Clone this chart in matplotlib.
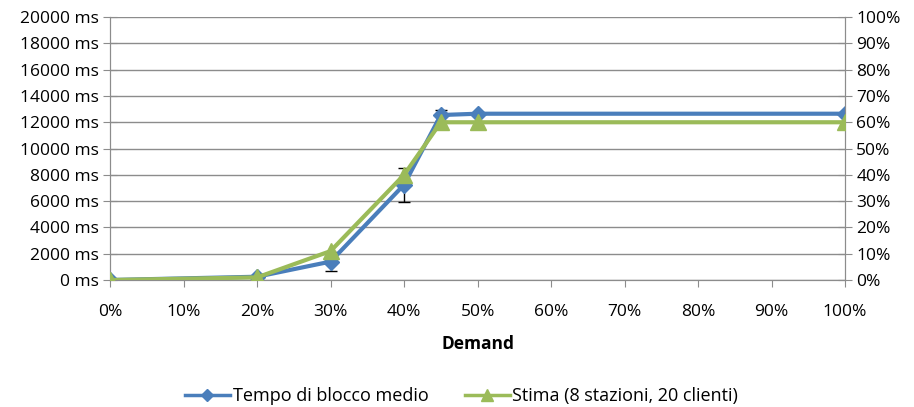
import matplotlib.pyplot as plt
import matplotlib.ticker as mticker
from matplotlib.lines import Line2D

# Data
demand = [0.0, 0.20, 0.30, 0.40, 0.45, 0.50, 1.00]
blocco_ms = [0, 250, 1400, 7250, 12550, 12650, 12650]
blocco_err = [0, 60, 750, 1300, 420, 80, 80]
stima_pct = [0.0, 0.01, 0.11, 0.40, 0.60, 0.60, 0.60]

left_ticks = list(range(0, 20001, 2000))
right_ticks = [i / 10 for i in range(11)]
x_ticks = [i / 10 for i in range(11)]
series_labels = ["Tempo di blocco medio", "Stima (8 stazioni, 20 clienti)"]

blue = "#4A7EBB"
green = "#9BBB59"
grid_c = "#8C8C8C"
txt_c = "#000000"
fs = 12.5

plt.rcParams["font.family"] = ["Open Sans", "DejaVu Sans"]

fig = plt.figure(figsize=(9.14, 4.07), dpi=100)
ax = fig.add_axes([0.1204, 0.312, 0.8042, 0.646])
ax2 = ax.twinx()

ax.errorbar(demand, blocco_ms, yerr=blocco_err, color=blue, lw=3,
            marker="D", ms=8, mec=blue, mfc=blue, ecolor="black",
            elinewidth=1, capsize=4, capthick=1, zorder=3)
ax2.plot(demand, stima_pct, color=green, lw=3, marker="^", ms=11.5,
         mec=green, mfc=green, zorder=4)

ax.set_xlim(0, 1)
ax.set_ylim(0, 20000)
ax2.set_ylim(0, 1)

ax.set_xticks(x_ticks)
ax.xaxis.set_major_formatter(mticker.FuncFormatter(lambda v, p: f"{v*100:.0f}%"))
ax.set_yticks(left_ticks)
ax.yaxis.set_major_formatter(mticker.FuncFormatter(lambda v, p: f"{v:.0f} ms"))
ax2.set_yticks(right_ticks)
ax2.yaxis.set_major_formatter(mticker.FuncFormatter(lambda v, p: f"{v*100:.0f}%"))

ax.grid(axis="y", color=grid_c, lw=1)
ax.set_axisbelow(True)
for a in (ax, ax2):
    for s in a.spines.values():
        s.set_color(grid_c)
    a.spines["top"].set_visible(False)
    a.tick_params(colors=grid_c, labelcolor=txt_c, labelsize=fs)
ax.tick_params(axis="x", direction="out", length=5, pad=12)
ax.tick_params(axis="y", direction="inout", length=10, pad=3)
ax2.tick_params(axis="y", direction="inout", length=10, pad=3)

ax.set_xlabel("Demand", fontsize=fs, fontweight="bold", labelpad=11)

ax.set_zorder(ax2.get_zorder() - 1)
ax.patch.set_visible(False)

handles = [
    Line2D([], [], color=blue, lw=2.5, marker="D", ms=6, mec=blue, mfc=blue),
    Line2D([], [], color=green, lw=2.5, marker="^", ms=9, mec=green, mfc=green),
]
fig.legend(handles, series_labels, loc="center", bbox_to_anchor=(0.505, 0.027),
           ncol=2, frameon=False, fontsize=13, handlelength=2.5,
           columnspacing=2.0, handletextpad=0.15)

fig.savefig("out.png", dpi=100)
